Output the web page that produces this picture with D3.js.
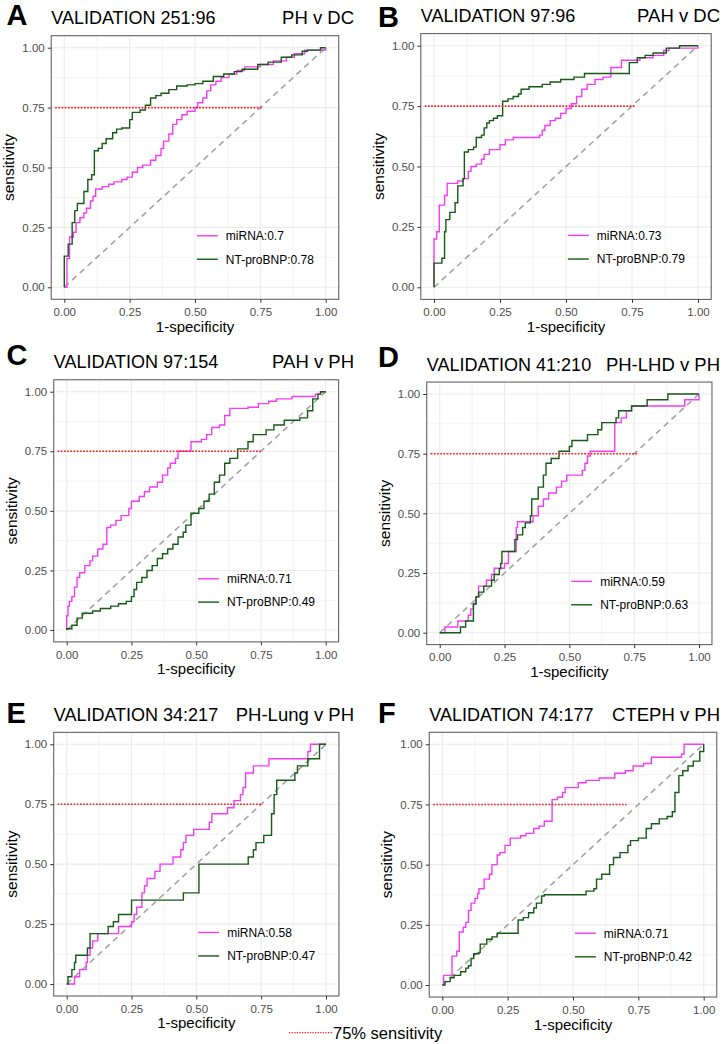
<!DOCTYPE html>
<html>
<head>
<meta charset="utf-8">
<script src="https://cdn.jsdelivr.net/npm/d3@7"></script>
<style>
  body { margin: 0; background: #fff; }
  svg { display: block; }
  text { font-family: "Liberation Sans", Arial, sans-serif; }
</style>
</head>
<body>
<div id="chart"></div>
<script>
// Panel labels and legend values
const letters = ["A", "B", "C", "D", "E", "F"];
const cohorts = ["VALIDATION 251:96", "VALIDATION 97:96", "VALIDATION 97:154",
                 "VALIDATION 41:210", "VALIDATION 34:217", "VALIDATION 74:177"];
const contrasts = ["PH v DC", "PAH v DC", "PAH v PH", "PH-LHD v PH", "PH-Lung v PH", "CTEPH v PH"];
const mirnaAuc = ["0.7", "0.73", "0.71", "0.59", "0.58", "0.71"];
const ntAuc = ["0.78", "0.79", "0.49", "0.63", "0.47", "0.42"];
const cutoffStart = -0.035;
const cutoffEnd = [0.755, 0.76, 0.753, 0.765, 0.752, 0.705];
const cutoffSens = 0.75;
const tickValues = [0, 0.25, 0.5, 0.75, 1];
const minorValues = [0.125, 0.375, 0.625, 0.875];

// ROC curves: [1-specificity, sensitivity] at each jump
const mirnaA = [[0,0],[0.01,0.12],[0.02,0.21],[0.035,0.23],[0.045,0.27],[0.06,0.29],[0.075,0.31],[0.085,0.33],[0.1,0.36],[0.11,0.38],[0.12,0.41],[0.145,0.42],[0.17,0.43],[0.19,0.44],[0.22,0.45],[0.24,0.46],[0.26,0.48],[0.28,0.5],[0.3,0.51],[0.33,0.53],[0.35,0.55],[0.37,0.58],[0.38,0.61],[0.4,0.64],[0.415,0.68],[0.43,0.7],[0.45,0.72],[0.47,0.735],[0.5,0.75],[0.51,0.77],[0.53,0.79],[0.545,0.82],[0.56,0.845],[0.58,0.86],[0.6,0.875],[0.63,0.89],[0.66,0.905],[0.69,0.92],[0.75,0.93],[0.8,0.945],[0.85,0.96],[0.88,0.975],[0.92,0.99],[1,1]];
const ntA = [[0,0],[0,0.13],[0.015,0.18],[0.03,0.27],[0.04,0.32],[0.05,0.35],[0.075,0.4],[0.09,0.45],[0.105,0.47],[0.115,0.57],[0.13,0.58],[0.145,0.6],[0.16,0.62],[0.185,0.645],[0.2,0.66],[0.22,0.665],[0.25,0.7],[0.26,0.73],[0.29,0.74],[0.31,0.76],[0.33,0.79],[0.35,0.8],[0.37,0.81],[0.4,0.825],[0.43,0.84],[0.47,0.845],[0.5,0.85],[0.53,0.86],[0.57,0.88],[0.61,0.89],[0.65,0.9],[0.68,0.91],[0.74,0.93],[0.78,0.94],[0.83,0.96],[0.87,0.97],[0.91,0.985],[0.93,0.99],[0.98,1],[1,1]];

const mirnaB = [[0,0],[0,0.2],[0.01,0.23],[0.02,0.34],[0.04,0.38],[0.05,0.43],[0.09,0.44],[0.11,0.45],[0.13,0.48],[0.14,0.5],[0.16,0.51],[0.18,0.53],[0.19,0.55],[0.21,0.57],[0.25,0.59],[0.27,0.61],[0.3,0.62],[0.4,0.63],[0.41,0.65],[0.42,0.67],[0.44,0.69],[0.46,0.7],[0.48,0.72],[0.5,0.74],[0.52,0.76],[0.54,0.79],[0.56,0.82],[0.58,0.84],[0.61,0.86],[0.64,0.87],[0.67,0.91],[0.71,0.94],[0.78,0.95],[0.83,0.96],[0.87,0.98],[0.89,0.99],[1,1]];
const ntB = [[0,0],[0,0.1],[0.03,0.12],[0.04,0.23],[0.045,0.28],[0.06,0.31],[0.08,0.35],[0.09,0.42],[0.11,0.45],[0.115,0.56],[0.13,0.57],[0.15,0.58],[0.16,0.62],[0.18,0.63],[0.19,0.66],[0.2,0.68],[0.21,0.69],[0.225,0.7],[0.24,0.71],[0.26,0.77],[0.28,0.78],[0.3,0.79],[0.32,0.8],[0.33,0.82],[0.36,0.83],[0.41,0.84],[0.44,0.85],[0.48,0.86],[0.53,0.87],[0.57,0.885],[0.74,0.93],[0.77,0.95],[0.8,0.96],[0.83,0.97],[0.88,0.99],[0.93,1],[1,1]];

const mirnaC = [[0,0],[0,0.06],[0.005,0.1],[0.01,0.12],[0.02,0.14],[0.03,0.18],[0.04,0.22],[0.05,0.24],[0.07,0.27],[0.09,0.29],[0.1,0.31],[0.12,0.34],[0.14,0.36],[0.155,0.43],[0.17,0.44],[0.19,0.46],[0.21,0.48],[0.24,0.51],[0.25,0.54],[0.28,0.56],[0.3,0.58],[0.32,0.6],[0.35,0.62],[0.37,0.65],[0.39,0.68],[0.4,0.7],[0.42,0.72],[0.43,0.75],[0.48,0.79],[0.52,0.8],[0.54,0.82],[0.56,0.85],[0.59,0.86],[0.61,0.9],[0.63,0.93],[0.7,0.935],[0.74,0.95],[0.78,0.96],[0.81,0.97],[0.87,0.98],[0.96,0.99],[0.98,1],[1,1]];
const ntC = [[0,0],[0,0.005],[0.02,0.02],[0.04,0.05],[0.06,0.07],[0.1,0.08],[0.13,0.09],[0.17,0.1],[0.2,0.11],[0.23,0.12],[0.25,0.14],[0.26,0.17],[0.27,0.2],[0.29,0.22],[0.31,0.25],[0.33,0.27],[0.35,0.3],[0.37,0.32],[0.39,0.34],[0.41,0.36],[0.43,0.39],[0.45,0.41],[0.46,0.44],[0.48,0.49],[0.51,0.51],[0.53,0.54],[0.55,0.57],[0.57,0.62],[0.59,0.65],[0.61,0.7],[0.63,0.72],[0.66,0.76],[0.7,0.79],[0.72,0.82],[0.77,0.84],[0.8,0.86],[0.84,0.88],[0.9,0.89],[0.93,0.92],[0.95,0.97],[0.97,0.99],[0.98,1],[1,1]];

const mirnaD = [[0,0],[0.02,0.024],[0.07,0.049],[0.11,0.073],[0.12,0.1],[0.13,0.12],[0.14,0.15],[0.15,0.195],[0.18,0.22],[0.2,0.244],[0.21,0.27],[0.25,0.29],[0.265,0.34],[0.295,0.44],[0.3,0.465],[0.36,0.49],[0.38,0.53],[0.4,0.56],[0.42,0.585],[0.45,0.61],[0.47,0.635],[0.49,0.66],[0.55,0.68],[0.56,0.71],[0.57,0.74],[0.58,0.76],[0.675,0.88],[0.7,0.9],[0.72,0.93],[0.74,0.95],[0.945,0.976],[1,1]];
const ntD = [[0,0],[0.08,0.024],[0.1,0.049],[0.13,0.12],[0.14,0.15],[0.15,0.17],[0.17,0.195],[0.2,0.22],[0.21,0.244],[0.23,0.268],[0.235,0.29],[0.24,0.34],[0.29,0.39],[0.3,0.41],[0.32,0.44],[0.33,0.46],[0.35,0.49],[0.355,0.56],[0.38,0.61],[0.4,0.66],[0.41,0.71],[0.43,0.73],[0.46,0.76],[0.5,0.78],[0.51,0.805],[0.57,0.83],[0.61,0.85],[0.625,0.88],[0.68,0.9],[0.69,0.93],[0.74,0.95],[0.8,0.976],[0.88,1],[1,1]];

const mirnaE = [[0,0],[0.02,0],[0.03,0.03],[0.05,0.06],[0.075,0.09],[0.08,0.12],[0.09,0.15],[0.1,0.18],[0.12,0.21],[0.2,0.24],[0.25,0.26],[0.26,0.29],[0.27,0.32],[0.29,0.38],[0.3,0.41],[0.31,0.44],[0.34,0.47],[0.36,0.5],[0.41,0.53],[0.44,0.56],[0.45,0.59],[0.46,0.62],[0.49,0.645],[0.55,0.675],[0.56,0.71],[0.62,0.735],[0.645,0.765],[0.67,0.79],[0.68,0.82],[0.69,0.88],[0.72,0.91],[0.78,0.94],[0.93,0.97],[0.94,1],[1,1]];
const ntE = [[0,0],[0.005,0.03],[0.02,0.06],[0.03,0.09],[0.035,0.12],[0.08,0.15],[0.09,0.21],[0.16,0.24],[0.18,0.26],[0.2,0.29],[0.25,0.35],[0.45,0.38],[0.51,0.5],[0.7,0.53],[0.72,0.56],[0.73,0.59],[0.76,0.62],[0.79,0.71],[0.8,0.79],[0.81,0.85],[0.88,0.88],[0.89,0.91],[0.93,0.94],[0.975,1],[1,1]];

const mirnaF = [[0,0],[0.005,0.04],[0.037,0.12],[0.055,0.14],[0.065,0.22],[0.08,0.24],[0.09,0.26],[0.1,0.31],[0.11,0.34],[0.125,0.36],[0.135,0.38],[0.14,0.4],[0.16,0.44],[0.18,0.46],[0.19,0.5],[0.21,0.54],[0.22,0.55],[0.24,0.58],[0.26,0.61],[0.3,0.62],[0.32,0.63],[0.35,0.65],[0.37,0.66],[0.39,0.68],[0.42,0.77],[0.44,0.78],[0.46,0.8],[0.47,0.82],[0.52,0.84],[0.55,0.85],[0.6,0.86],[0.66,0.88],[0.7,0.89],[0.73,0.91],[0.77,0.92],[0.8,0.946],[0.915,0.96],[0.925,1],[1,1]];
const ntF = [[0,0],[0.01,0.014],[0.03,0.03],[0.045,0.04],[0.07,0.055],[0.09,0.07],[0.1,0.08],[0.11,0.11],[0.12,0.13],[0.14,0.135],[0.145,0.17],[0.17,0.19],[0.19,0.2],[0.21,0.215],[0.29,0.27],[0.31,0.28],[0.33,0.3],[0.35,0.32],[0.36,0.34],[0.38,0.37],[0.39,0.375],[0.55,0.39],[0.58,0.4],[0.59,0.44],[0.61,0.46],[0.64,0.5],[0.655,0.53],[0.68,0.55],[0.71,0.58],[0.72,0.6],[0.75,0.61],[0.78,0.65],[0.8,0.67],[0.83,0.69],[0.86,0.7],[0.88,0.72],[0.89,0.8],[0.905,0.87],[0.92,0.89],[0.94,0.91],[0.96,0.93],[0.985,0.97],[1,1]];

const mirnaCurves = [mirnaA, mirnaB, mirnaC, mirnaD, mirnaE, mirnaF];
const ntCurves = [ntA, ntB, ntC, ntD, ntE, ntF];

// Colours and sizes
const mirnaColor = "#f43cf4";
const ntColor = "#155a15";
const gridColor = "#ebebeb";
const borderColor = "#555";
const width = 726;
const height = 1044;

// Pixel positions of data 0 and 1 on each panel, plus label baselines
const layout = [
  { x0: 64.3,  x1: 325.7, y0: 287.3, y1: 47.7,  letterY: 25,  col: 0 },
  { x0: 434,   x1: 698,   y0: 287.3, y1: 45.7,  letterY: 27,  col: 1 },
  { x0: 66.7,  x1: 325.7, y0: 630,   y1: 391.7, letterY: 365, col: 0 },
  { x0: 439.7, x1: 699,   y0: 632.7, y1: 394,   letterY: 367, col: 1 },
  { x0: 66.7,  x1: 326,   y0: 984,   y1: 744.3, letterY: 723, col: 0 },
  { x0: 442.3, x1: 703.7, y0: 985,   y1: 744.3, letterY: 723, col: 1 }
];
const letterX = [6.5, 378];
const titleRight = [354, 720];

const svg = d3.select("#chart")
  .append("svg")
  .attr("width", width)
  .attr("height", height);

const lineAttr = (line, color, w, x1, y1, x2, y2) => {
  line
    .attr("stroke", color)
    .attr("stroke-width", w)
    .attr("x1", x1)
    .attr("y1", y1)
    .attr("x2", x2)
    .attr("y2", y2);
};

const styleAxis = (axis) => {
  axis.select(".domain").remove();
  axis.selectAll(".tick line").attr("stroke", "#333").attr("stroke-width", 1);
  axis.selectAll(".tick text")
    .attr("fill", "#4d4d4d")
    .style("font-family", "'Liberation Sans', Arial, sans-serif")
    .style("font-size", "11.5px");
};

const drawPanel = (i) => {
  const b = layout[i];
  const g = svg.append("g").attr("class", "panel-" + letters[i]);

  const x = d3.scaleLinear().domain([0, 1]).range([b.x0, b.x1]);
  const y = d3.scaleLinear().domain([0, 1]).range([b.y0, b.y1]);
  const left = x(-0.05), right = x(1.05), top = y(1.05), bottom = y(-0.05);

  // grid
  minorValues.forEach(v => {
    g.append("line").call(lineAttr, gridColor, 0.6, x(v), top, x(v), bottom);
    g.append("line").call(lineAttr, gridColor, 0.6, left, y(v), right, y(v));
  });
  tickValues.forEach(v => {
    g.append("line").call(lineAttr, gridColor, 1.1, x(v), top, x(v), bottom);
    g.append("line").call(lineAttr, gridColor, 1.1, left, y(v), right, y(v));
  });

  // chance line
  g.append("line")
    .call(lineAttr, "#a3a3a3", 1.6, x(0), y(0), x(1), y(1))
    .attr("stroke-dasharray", "6,4.5");

  const roc = d3.line()
    .x(d => x(d[0]))
    .y(d => y(d[1]))
    .curve(d3.curveStepAfter);

  g.append("path")
    .datum(mirnaCurves[i])
    .attr("d", roc)
    .attr("fill", "none")
    .attr("stroke", mirnaColor)
    .attr("stroke-width", 1.4);

  g.append("path")
    .datum(ntCurves[i])
    .attr("d", roc)
    .attr("fill", "none")
    .attr("stroke", ntColor)
    .attr("stroke-width", 1.4);

  // 75% sensitivity marker
  g.append("line")
    .call(lineAttr, "#ff1a1a", 1.6, x(cutoffStart), y(cutoffSens), x(cutoffEnd[i]), y(cutoffSens))
    .attr("stroke-dasharray", "1.7,1.5");

  // panel border
  g.append("rect")
    .attr("x", left)
    .attr("y", top)
    .attr("width", right - left)
    .attr("height", bottom - top)
    .attr("fill", "none")
    .attr("stroke", borderColor)
    .attr("stroke-width", 1);

  // axes
  g.append("g")
    .attr("transform", `translate(0,${bottom})`)
    .call(d3.axisBottom(x).tickValues(tickValues).tickFormat(d3.format(".2f")).tickSize(3.5).tickPadding(5))
    .call(styleAxis);

  g.append("g")
    .attr("transform", `translate(${left},0)`)
    .call(d3.axisLeft(y).tickValues(tickValues).tickFormat(d3.format(".2f")).tickSize(3.5).tickPadding(3))
    .call(styleAxis);

  // axis titles
  g.append("text")
    .attr("x", (b.x0 + b.x1) / 2)
    .attr("y", bottom + 32.5)
    .attr("text-anchor", "middle")
    .style("font-size", "15px")
    .text("1-specificity");

  g.append("text")
    .attr("transform", `translate(${left - 37},${(b.y0 + b.y1) / 2}) rotate(-90)`)
    .attr("text-anchor", "middle")
    .style("font-size", "15.5px")
    .text("sensitivity");

  // titles
  g.append("text")
    .attr("x", letterX[b.col])
    .attr("y", b.letterY)
    .style("font-size", "29px")
    .style("font-weight", "bold")
    .text(letters[i]);

  g.append("text")
    .attr("x", left)
    .attr("y", top - 11.5)
    .style("font-size", "18px")
    .text(cohorts[i]);

  g.append("text")
    .attr("x", titleRight[b.col])
    .attr("y", top - 11.5)
    .attr("text-anchor", "end")
    .style("font-size", "18.5px")
    .text(contrasts[i]);

  // legend
  const legend = [
    { label: "miRNA:" + mirnaAuc[i], color: mirnaColor, pos: 0.215 },
    { label: "NT-proBNP:" + ntAuc[i], color: ntColor, pos: 0.117 }
  ];
  const keyX = x(0.507);
  legend.forEach(l => {
    g.append("line").call(lineAttr, l.color, 1.4, keyX, y(l.pos), keyX + 21, y(l.pos));
    g.append("text")
      .attr("x", keyX + 29)
      .attr("y", y(l.pos))
      .attr("dy", "0.36em")
      .style("font-size", "12px")
      .text(l.label);
  });
};

letters.forEach((d, i) => drawPanel(i));

// shared legend for the cut-off line
svg.append("line")
  .call(lineAttr, "#ff1a1a", 1.3, 289, 1032.7, 332, 1032.7)
  .attr("stroke-dasharray", "1.3,1.3");
svg.append("text")
  .attr("x", 333)
  .attr("y", 1038.5)
  .style("font-size", "16.5px")
  .text("75% sensitivity");
</script>
</body>
</html>
